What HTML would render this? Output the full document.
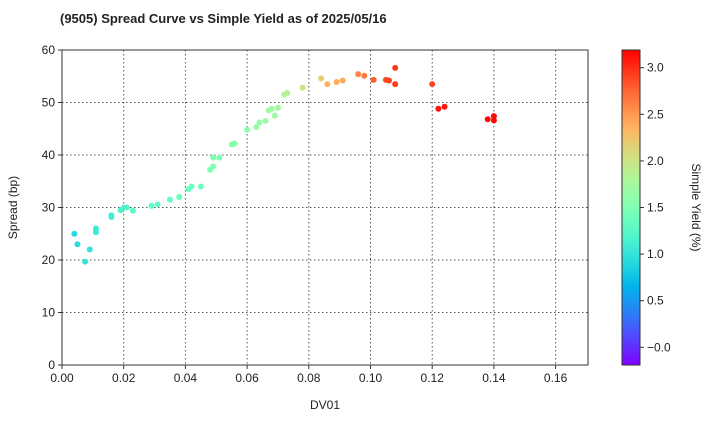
<!DOCTYPE html>
<html><head><meta charset="utf-8"><style>
body{margin:0;background:#fff;}
svg text{font-family:"Liberation Sans",Arial,sans-serif;fill:#222;}
</style></head><body>
<svg id="chart" width="720" height="420"></svg>
<script>
const dv01 = [0.004,0.005,0.0075,0.009,0.011,0.011,0.016,0.016,0.019,0.020,0.021,0.023,0.029,0.031,0.035,0.038,0.041,0.042,0.045,0.048,0.049,0.049,0.051,0.055,0.056,0.060,0.063,0.064,0.066,0.067,0.068,0.069,0.070,0.072,0.073,0.078,0.084,0.086,0.089,0.091,0.096,0.098,0.101,0.105,0.106,0.108,0.108,0.120,0.122,0.124,0.138,0.140,0.140];
const spread = [25.0,23.0,19.7,22.0,26.0,25.3,28.2,28.5,29.5,30.0,30.0,29.4,30.3,30.6,31.5,32.0,33.5,34.0,34.0,37.2,37.8,39.5,39.5,42.0,42.2,44.8,45.3,46.2,46.5,48.5,48.8,47.5,49.0,51.5,51.8,52.8,54.6,53.5,53.9,54.2,55.4,55.1,54.3,54.3,54.2,56.6,53.5,53.5,48.8,49.2,46.8,47.4,46.6];
const yld = [0.9,0.95,1.0,1.0,1.05,1.05,1.1,1.1,1.2,1.2,1.2,1.25,1.3,1.3,1.35,1.35,1.4,1.4,1.4,1.5,1.5,1.5,1.5,1.55,1.55,1.6,1.65,1.65,1.7,1.7,1.7,1.7,1.75,1.85,1.85,2.0,2.2,2.35,2.4,2.4,2.6,2.65,2.8,2.9,2.9,2.95,2.95,2.9,3.1,3.1,3.15,3.15,3.15];
const xTicks = [0,0.02,0.04,0.06,0.08,0.10,0.12,0.14,0.16];
const yTicks = [0,10,20,30,40,50,60];
const cTicks = [0,0.5,1.0,1.5,2.0,2.5,3.0];

const NS="http://www.w3.org/2000/svg";
const svg=document.getElementById('chart');
const L=62,R=588,T=50,B=365;
const xMin=0,xMax=0.1705,yMin=0,yMax=60;
const cMin=-0.19,cMax=3.19;
const xs=v=>L+(v-xMin)/(xMax-xMin)*(R-L);
const ys=v=>B-(v-yMin)/(yMax-yMin)*(B-T);
const cy=v=>B-(v-cMin)/(cMax-cMin)*(B-T);
function rainbow(t){t=Math.max(0,Math.min(1,t));const r=Math.min(1,Math.abs(2*t-0.5)),g=Math.sin(Math.PI*t),b=Math.cos(Math.PI*t/2);return `rgb(${Math.round(r*255)},${Math.round(g*255)},${Math.round(b*255)})`;}
function mk(tag,attrs,parent){const e=document.createElementNS(NS,tag);for(const k in attrs)e.setAttribute(k,attrs[k]);(parent||svg).appendChild(e);return e;}

let t=mk('text',{x:60,y:23,'font-size':13,'font-weight':'bold'});t.textContent='(9505)   Spread Curve vs Simple Yield as of 2025/05/16';



xTicks.forEach(v=>{const x=xs(v);
 if(v>0){const g=mk('line',{x1:x,x2:x,y1:T,y2:B,stroke:'#555','stroke-dasharray':'1.5,2.5','stroke-width':1});
 
 }
 mk('line',{x1:x,x2:x,y1:B,y2:B+4,stroke:'#333'});
 const l=mk('text',{x:x,y:B+17,'font-size':12,'text-anchor':'middle'});l.textContent=v.toFixed(2);
 
 
});
yTicks.forEach(v=>{const y=ys(v);
 if(v>0&&v<60){const g=mk('line',{x1:L,x2:R,y1:y,y2:y,stroke:'#555','stroke-dasharray':'1.5,2.5','stroke-width':1});
 
 }
 mk('line',{x1:L-4,x2:L,y1:y,y2:y,stroke:'#333'});
 const l=mk('text',{x:L-7,y:y+4,'font-size':12,'text-anchor':'end'});l.textContent=v;
 
 
});
const frame=mk('rect',{x:L,y:T,width:R-L,height:B-T,fill:'none',stroke:'#333','stroke-width':1});



let xl=mk('text',{x:(L+R)/2,y:409,'font-size':12,'text-anchor':'middle'});xl.textContent='DV01';


let yl=mk('text',{x:0,y:0,'font-size':12,'text-anchor':'middle',transform:`translate(17,${(T+B)/2}) rotate(-90)`});yl.textContent='Spread (bp)';



dv01.forEach((d,i)=>{
 const c=mk('circle',{cx:xs(d),cy:ys(spread[i]),r:3,fill:rainbow((yld[i]-cMin)/(cMax-cMin))});
 
 
});

const defs=mk('defs',{});
const lg=mk('linearGradient',{id:'cg',x1:0,y1:1,x2:0,y2:0},defs);
for(let i=0;i<=20;i++){mk('stop',{offset:i/20,'stop-color':rainbow(i/20)},lg);}
const cb=mk('rect',{x:622,y:T,width:18,height:B-T,fill:'url(#cg)',stroke:'#333','stroke-width':1});


cTicks.forEach(v=>{const y=cy(v);
 mk('line',{x1:640,x2:644,y1:y,y2:y,stroke:'#333'});
 const l=mk('text',{x:647,y:y+4,'font-size':12});l.textContent=v===0?'−0.0':v.toFixed(1);
 
 
});
let cl=mk('text',{x:0,y:0,'font-size':12,'text-anchor':'middle',transform:`translate(692,${(T+B)/2}) rotate(90)`});cl.textContent='Simple Yield (%)';


</script>
</body></html>
